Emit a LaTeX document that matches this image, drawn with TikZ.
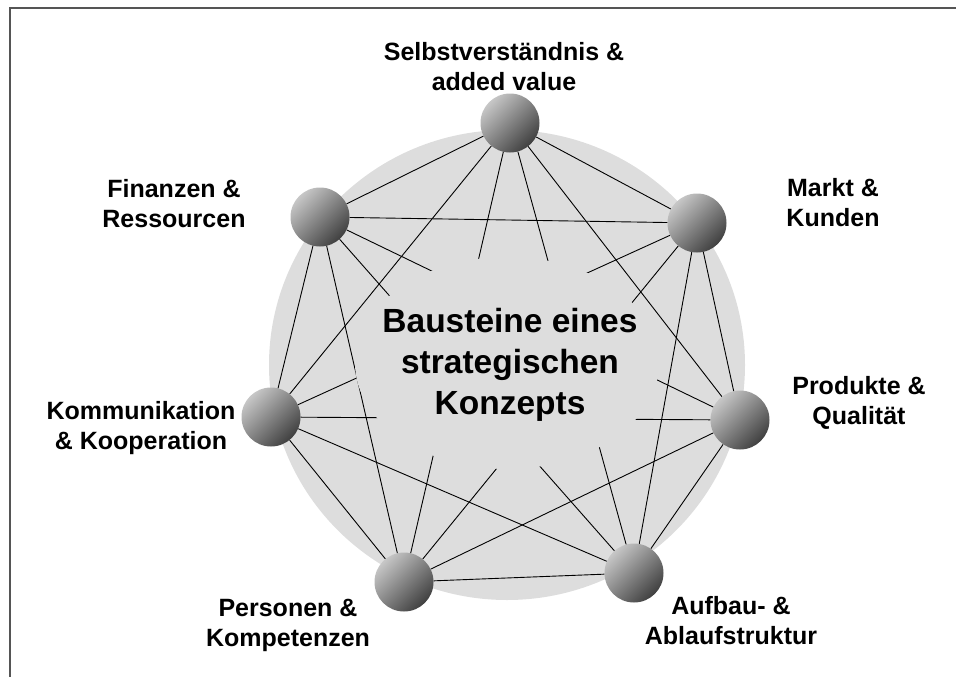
\documentclass[tikz,border=0pt]{standalone}
\usepackage{fontspec}
\setmainfont{Liberation Sans}
\definecolor{mygray}{RGB}{221, 221, 221}
\definecolor{myframe}{RGB}{85, 85, 85}
\tikzset{ball/.style={circle, minimum size=59pt, inner sep=0pt, top color=black!22, bottom color=black!75, shading angle=45},
  lbl/.style={align=center, font=\fontsize{25}{30}\selectfont\bfseries},
  link/.style={black, line width=0.9pt}}

\begin{document}
\begin{tikzpicture}[x=1pt, y=-1pt]
\useasboundingbox (0, 0) rectangle (956, 677);
\draw[myframe, line width=2pt] (956, 8) -- (10, 8) -- (10, 677);
\fill[mygray] (507, 365) ellipse [x radius=238pt, y radius=235pt];

\node[ball] (sel) at (510, 123) {};
\node[ball] (fin) at (320, 217) {};
\node[ball] (mar) at (697, 223) {};
\node[ball] (kom) at (271, 417) {};
\node[ball] (pro) at (740, 420) {};
\node[ball] (per) at (404, 582) {};
\node[ball] (auf) at (634, 573) {};

\draw[link] (sel) -- (fin);
\draw[link] (sel) -- (mar);
\draw[link] (sel) -- (kom);
\draw[link] (sel) -- (pro);
\draw[link] (sel) -- (per);
\draw[link] (sel) -- (auf);
\draw[link] (fin) -- (mar);
\draw[link] (fin) -- (kom);
\draw[link] (fin) -- (pro);
\draw[link] (fin) -- (per);
\draw[link] (fin) -- (auf);
\draw[link] (mar) -- (kom);
\draw[link] (mar) -- (pro);
\draw[link] (mar) -- (per);
\draw[link] (mar) -- (auf);
\draw[link] (kom) -- (pro);
\draw[link] (kom) -- (per);
\draw[link] (kom) -- (auf);
\draw[link] (pro) -- (per);
\draw[link] (pro) -- (auf);
\draw[link] (per) -- (auf);

% inner area hides the middle of the links
\fill[mygray] (507, 363) ellipse [x radius=152pt, y radius=106pt];
\node[align=center, font=\fontsize{33.5}{41}\selectfont\bfseries] (core) at (510, 365)
  {Bausteine eines\\strategischen\\Konzepts};

\node[lbl] (lsel) at (504, 67) {Selbstverständnis \&\\added value};
\node[lbl] (lfin) at (174, 204) {Finanzen \&\\Ressourcen};
\node[lbl] (lmar) at (833, 203) {Markt \&\\Kunden};
\node[lbl] (lpro) at (859, 403) {Produkte \&\\Qualität};
\node[lbl] (lkom) at (141, 428) {Kommunikation\\\& Kooperation};
\node[lbl] (lper) at (288, 625) {Personen \&\\Kompetenzen};
\node[lbl] (lauf) at (731, 621) {Aufbau- \&\\Ablaufstruktur};

\end{tikzpicture}
\end{document}
